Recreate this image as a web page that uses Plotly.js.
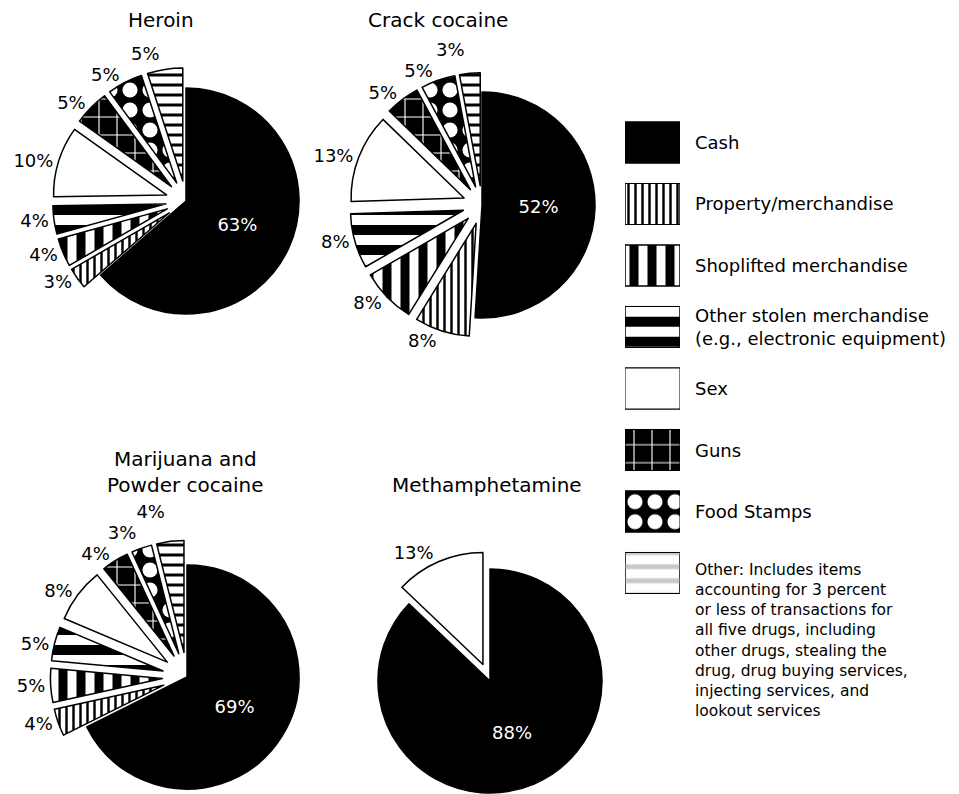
<!DOCTYPE html>
<html>
<head>
<meta charset="utf-8">
<script src="https://cdn.plot.ly/plotly-3.0.1.min.js"></script>
<style>
  html, body { margin: 0; padding: 0; background: #fff; overflow: hidden; }
  #frame { width: 959px; height: 794px; overflow: hidden; position: relative; }
  #chart { width: 959px; height: 830px; }
  /* no leader lines for the outside percentage labels */
  #chart path.textline { display: none; }
</style>
</head>
<body>
<div id="frame"><div id="chart"></div></div>
<script>
// Share of drug transactions by form of payment, per drug
const categories = ['Cash', 'Property/merchandise', 'Shoplifted merchandise',
  'Other stolen merchandise', 'Sex', 'Guns', 'Food Stamps', 'Other'];
const heroinValues = [63, 3, 4, 4, 10, 5, 5, 5];
const crackValues = [52, 8, 8, 8, 13, 5, 5, 3];
const marijuanaPowderValues = [69, 4, 5, 5, 8, 4, 3, 4];
const methCategories = ['Cash', 'Sex'];
const methValues = [88, 13];

const pieTitles = ['Heroin', 'Crack cocaine', 'Marijuana and<br>Powder cocaine', 'Methamphetamine'];
const legendLabels = [
  'Cash',
  'Property/merchandise',
  'Shoplifted merchandise',
  'Other stolen merchandise<br>(e.g., electronic equipment)',
  'Sex',
  'Guns',
  'Food Stamps',
  'Other: Includes items<br>accounting for 3 percent<br>or less of transactions for<br>all five drugs, including<br>other drugs, stealing the<br>drug, drug buying services,<br>injecting services, and<br>lookout services'
];

const W = 959, H = 830;
const FONT = 'DejaVu Sans, sans-serif';

// fill style for each payment type
const fills = {
  'Cash':                     {bg: '#000', fg: '#000', shape: '',  size: 8,  solidity: 0.3},
  'Property/merchandise':     {bg: '#fff', fg: '#000', shape: '|', size: 7,  solidity: 0.35},
  'Shoplifted merchandise':   {bg: '#fff', fg: '#000', shape: '|', size: 18, solidity: 0.5},
  'Other stolen merchandise': {bg: '#fff', fg: '#000', shape: '-', size: 20, solidity: 0.5},
  'Sex':                      {bg: '#fff', fg: '#fff', shape: '',  size: 8,  solidity: 0.3},
  'Guns':                     {bg: '#000', fg: '#fff', shape: '+', size: 18, solidity: 0.12},
  'Food Stamps':              {bg: '#000', fg: '#fff', shape: '.', size: 20, solidity: 0.45},
  'Other':                    {bg: '#fff', fg: '#000', shape: '-', size: 10, solidity: 0.3}
};
// the key swatch for "Other" uses light grey bands
const keyFills = Object.assign({}, fills, {
  'Other': {bg: '#fff', fg: '#c8c8c8', shape: '-', size: 14, solidity: 0.35}
});

function pieTrace(labels, values, cx, cy, r, pull) {
  const half = r * (1 + pull);
  return {
    type: 'pie',
    labels: labels,
    values: values,
    sort: false,
    direction: 'clockwise',
    rotation: 0,
    domain: {
      x: [(cx - half) / W, (cx + half) / W],
      y: [1 - (cy + half) / H, 1 - (cy - half) / H]
    },
    pull: labels.map(l => (l === 'Cash' ? 0 : pull)),
    text: values.map(v => v + '%'),
    textinfo: 'text',
    textposition: labels.map(l => (l === 'Cash' ? 'inside' : 'outside')),
    insidetextorientation: 'horizontal',
    insidetextfont: {family: FONT, size: 18, color: '#fff'},
    outsidetextfont: {family: FONT, size: 18, color: '#000'},
    marker: {
      colors: labels.map(l => fills[l].bg),
      line: {color: '#000', width: 1.5},
      pattern: {
        shape: labels.map(l => fills[l].shape),
        fgcolor: labels.map(l => fills[l].fg),
        bgcolor: labels.map(l => fills[l].bg),
        size: labels.map(l => fills[l].size),
        solidity: labels.map(l => fills[l].solidity),
        fgopacity: 1,
        fillmode: 'overlay'
      }
    },
    hoverinfo: 'none',
    showlegend: false
  };
}

const traces = [
  pieTrace(categories, heroinValues, 186, 201, 113, 0.18),
  pieTrace(categories, crackValues, 482, 205, 113, 0.17),
  pieTrace(categories, marijuanaPowderValues, 187, 677, 112, 0.22),
  pieTrace(methCategories, methValues, 490, 681, 112, 0.16)
];

// key: a solid background box per payment type, with its pattern laid on top
const keyTop = 111.75, keyBottom = 603.75;
const keyBase = {
  type: 'bar',
  orientation: 'h',
  y: categories,
  x: categories.map(() => 1),
  width: 0.667,
  xaxis: 'x',
  yaxis: 'y',
  hoverinfo: 'none',
  showlegend: false
};
traces.push(Object.assign({}, keyBase, {
  marker: {color: categories.map(l => keyFills[l].bg), line: {color: '#000', width: 1}}
}));
traces.push(Object.assign({}, keyBase, {
  marker: {
    color: categories.map(l => keyFills[l].fg),
    line: {color: '#000', width: 1},
    pattern: {
      shape: categories.map(l => keyFills[l].shape),
      size: categories.map(l => keyFills[l].size),
      solidity: categories.map(l => keyFills[l].solidity),
      bgcolor: 'rgba(0,0,0,0)',
      fillmode: 'replace'
    }
  }
}));

const annotations = [];
// key labels
categories.forEach((c, i) => {
  const isLong = c === 'Other';
  annotations.push({
    xref: 'paper', yref: 'y',
    x: 693 / W, y: c,
    xanchor: 'left',
    yanchor: isLong ? 'top' : 'middle',
    yshift: isLong ? 14 : 0,
    align: 'left',
    showarrow: false,
    text: legendLabels[i],
    font: {family: FONT, size: isLong ? 15.5 : 18, color: '#000'}
  });
});
// pie headings
const titlePos = [[161, 20], [438, 20], [185, 472], [487, 485]];
pieTitles.forEach((t, i) => {
  annotations.push({
    xref: 'paper', yref: 'paper',
    x: titlePos[i][0] / W, y: 1 - titlePos[i][1] / H,
    xanchor: 'center', yanchor: 'middle',
    showarrow: false,
    text: t,
    font: {family: FONT, size: 20, color: '#000'}
  });
});

const layout = {
  width: W,
  height: H,
  margin: {l: 0, r: 0, t: 0, b: 0},
  paper_bgcolor: '#fff',
  plot_bgcolor: 'rgba(0,0,0,0)',
  showlegend: false,
  barmode: 'overlay',
  font: {family: FONT, color: '#000'},
  xaxis: {domain: [625 / W, 680 / W], range: [0, 1], visible: false, fixedrange: true},
  yaxis: {domain: [1 - keyBottom / H, 1 - keyTop / H], type: 'category',
          range: [7.5, -0.5], visible: false, fixedrange: true},
  annotations: annotations
};

Plotly.newPlot('chart', traces, layout, {displayModeBar: false, staticPlot: true});
</script>
</body>
</html>
